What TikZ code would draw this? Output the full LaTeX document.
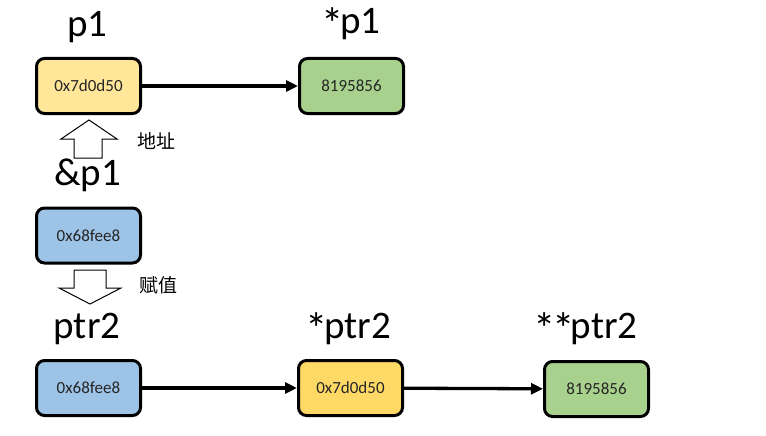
\documentclass[tikz,border=0pt]{standalone}
\usepackage{fontspec}
\setmainfont{Carlito}
\newfontfamily\cjk{Noto Sans CJK SC}
\usetikzlibrary{arrows.meta}
\definecolor{lightyellow}{HTML}{FFE699}
\definecolor{gold}{HTML}{FFD966}
\definecolor{skyblue}{HTML}{9DC3E6}
\definecolor{leafgreen}{HTML}{A9D18E}
\newcommand{\deref}{\raisebox{-6pt}{\scalebox{1.15}{*}}\kern-3.5pt}

\begin{document}
\begin{tikzpicture}[x=1pt,y=-1pt,>={Triangle[length=12pt,width=11pt]}]
  \tikzstyle{cell}=[rectangle,rounded corners=8pt,line width=3pt,draw=black,
  		    minimum width=104pt,minimum height=55pt,
  		    font=\fontsize{17}{17}\selectfont,text=black!85]
  \tikzstyle{var}=[anchor=base,inner sep=0pt,font=\fontsize{39}{39}\selectfont]
  \tikzstyle{note}=[font=\cjk\fontsize{19}{19}\selectfont]
  \tikzstyle{link}=[->,line width=3.3pt]
  \tikzstyle{hollow}=[draw=black,fill=white,line width=1pt,line join=miter]

  \useasboundingbox (0,0) rectangle (766,436);

  % first pointer
  \node [var] (name p1) at (87.5,37) {p1};
  \node [var] (name p1v) at (351,34) {\deref p1};
  \node [cell,fill=lightyellow] (p1) at (88.5,86) {0x7d0d50};
  \node [cell,fill=leafgreen] (p1v) at (351.5,86) {8195856};
  \draw [link] (p1) -- (p1v);

  % address of p1
  \draw [hollow] (89,120) -- (117,139) -- (102,139) -- (102,158)
    -- (74,158) -- (74,139) -- (61,139) -- cycle;
  \node [note] (addr note) at (156,141) {地址};
  \node [var] (name addr) at (87.5,185) {\&p1};
  \node [cell,fill=skyblue] (addr) at (88.5,235.5) {0x68fee8};

  % assignment
  \draw [hollow] (74,270) -- (106,270) -- (106,288) -- (121,288)
    -- (90,304) -- (59,288) -- (74,288) -- cycle;
  \node [note] (assign note) at (158,285) {赋值};

  % second pointer
  \node [var] (name ptr2) at (87,338) {ptr2};
  \node [var] (name ptr2v) at (348.5,338) {\deref ptr2};
  \node [var] (name ptr2vv) at (585.5,338) {\deref\deref ptr2};
  \node [cell,fill=skyblue] (ptr2) at (88.5,388) {0x68fee8};
  \node [cell,fill=gold] (ptr2v) at (350.5,388) {0x7d0d50};
  \node [cell,fill=leafgreen] (ptr2vv) at (596.5,389) {8195856};
  \draw [link] (ptr2) -- (ptr2v);
  \draw [link] (ptr2v) -- (ptr2vv);
\end{tikzpicture}
\end{document}
